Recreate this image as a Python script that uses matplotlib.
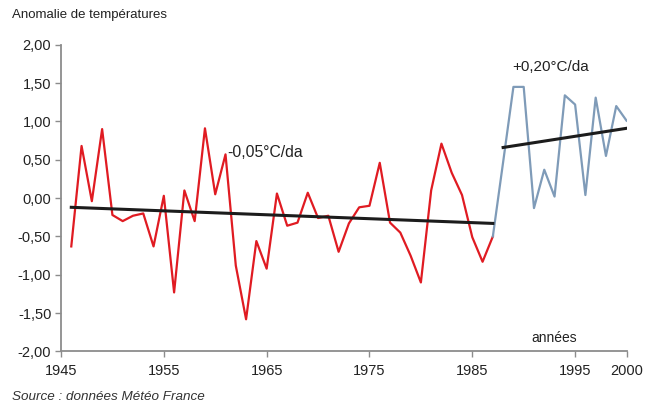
import numpy as np
import matplotlib
matplotlib.use("Agg")
import matplotlib.pyplot as plt
from matplotlib.ticker import FuncFormatter

##########################################
# anomalies
years_red = list(range(1946, 1988))
anom_red = [-0.63, 0.68, -0.04, 0.90, -0.22, -0.30, -0.23, -0.20, -0.63, 0.03,
            -1.23, 0.10, -0.30, 0.91, 0.05, 0.57, -0.88, -1.58, -0.56, -0.92,
            0.06, -0.36, -0.32, 0.07, -0.26, -0.23, -0.70, -0.33, -0.12, -0.10,
            0.46, -0.32, -0.45, -0.75, -1.10, 0.10, 0.71, 0.33, 0.04, -0.51,
            -0.83, -0.50]
years_blue = list(range(1987, 2001))
anom_blue = [-0.50, 0.47, 1.45, 1.45, -0.13, 0.37, 0.02, 1.34, 1.22, 0.04,
             1.31, 0.55, 1.20, 1.01]
# trend lines (start / end)
trend_red_x = [1946, 1987]
trend_red_y = [-0.12, -0.33]
trend_blue_x = [1988, 2000]
trend_blue_y = [0.66, 0.91]

xticks = [1945, 1955, 1965, 1975, 1985, 1995, 2000]
yticks = [-2.0, -1.5, -1.0, -0.5, 0.0, 0.5, 1.0, 1.5, 2.0]
##########################################

fam = ['Liberation Sans Narrow', 'Liberation Sans', 'DejaVu Sans']
plt.rcParams['font.family'] = fam

fig = plt.figure(figsize=(6.51, 4.05), dpi=100)
ax = fig.add_axes([0.0937, 0.1321, 0.8687, 0.7575])

red = '#e01b22'
blue = '#7f9bb8'
ax.plot(years_red, anom_red, color=red, lw=1.6, zorder=3)
ax.plot(years_blue, anom_blue, color=blue, lw=1.6, zorder=3)
ax.plot(trend_red_x, trend_red_y, color='#1c1c1c', lw=2.2, zorder=4)
ax.plot(trend_blue_x, trend_blue_y, color='#1c1c1c', lw=2.2, zorder=4)

ax.set_xlim(1945, 2000)
ax.set_ylim(-2, 2)
ax.set_xticks(xticks)
ax.set_yticks(yticks)
ax.yaxis.set_major_formatter(FuncFormatter(lambda v, p: f"{v:.2f}".replace('.', ',')))

for s in ['top', 'right']:
    ax.spines[s].set_visible(False)
for s in ['left', 'bottom']:
    ax.spines[s].set_color('#8c8c8c')
    ax.spines[s].set_linewidth(1.3)
ax.tick_params(axis='both', colors='#8c8c8c', labelcolor='#222222', labelsize=10.5,
               length=4, width=1)
ax.tick_params(axis='x', pad=5)
ax.tick_params(axis='y', pad=3)

ax.text(1961.2, 0.60, "-0,05°C/da", fontsize=11.3, color='#222222', va='center', ha='left')
ax.text(1988.9, 1.71, "+0,20°C/da", fontsize=11, color='#222222', va='center', ha='left')
ax.text(1993, -1.83, "années", fontsize=10, color='#222222', va='center', ha='center')

fig.text(12 / 651, 1 - 15 / 405, "Anomalie de températures", fontsize=9.5,
         color='#222222', va='center', ha='left')
fig.text(12 / 651, 1 - 397 / 405, "Source : données Météo France", fontsize=9.7,
         color='#333333', style='italic', va='center', ha='left')

fig.savefig("out.png", dpi=100)
